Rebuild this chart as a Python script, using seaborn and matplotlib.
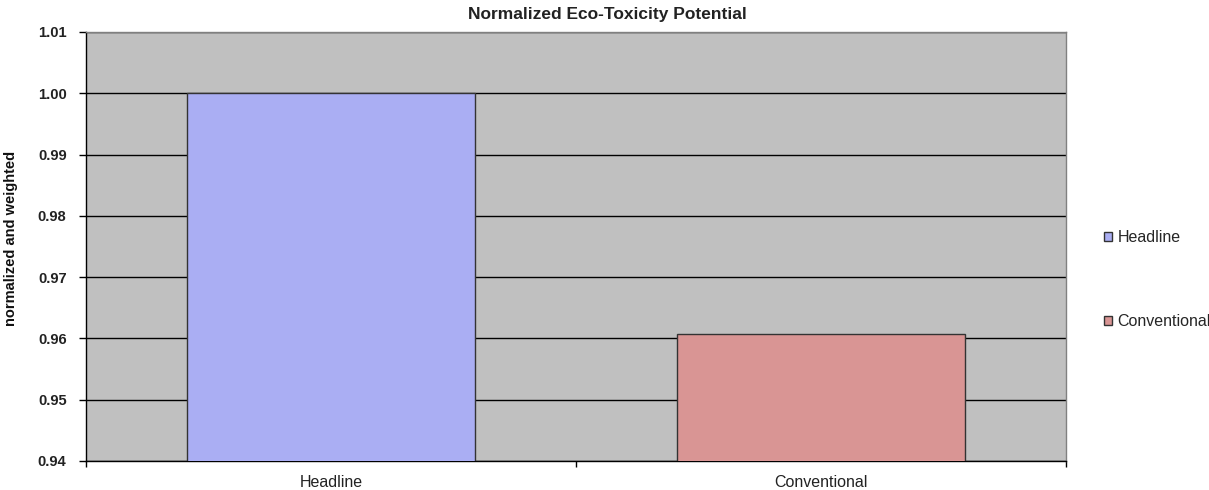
import matplotlib
matplotlib.use("Agg")
import matplotlib.pyplot as plt
import seaborn as sns
import pandas as pd
from matplotlib.patches import Patch

categories = ["Headline", "Conventional"]
values = [1.0, 0.9607]
colors = ["#aaaef3", "#d99594"]
yticks = [0.94, 0.95, 0.96, 0.97, 0.98, 0.99, 1.00, 1.01]

sns.set_theme(style="white")
plt.rcParams['font.family'] = ['Liberation Sans', 'DejaVu Sans']

df = pd.DataFrame({"cat": categories, "val": values})

fig = plt.figure(figsize=(12.09, 4.90), dpi=100)
ax = fig.add_axes([86/1209, 29/490, 980/1209, 429/490])
ax.set_facecolor("#c0c0c0")

sns.barplot(data=df, x="cat", y="val", hue="cat", palette=colors, order=categories,
            hue_order=categories, width=0.588, edgecolor="#333333", linewidth=1.0,
            saturation=1, dodge=False, legend=False, ax=ax, zorder=3)

ax.set_ylim(0.94, 1.01)
ax.set_yticks(yticks)
ax.set_yticklabels([f"{t:.2f}" for t in yticks], fontsize=10.6, fontweight="bold", color="#222222")
ax.yaxis.grid(True, color="black", linewidth=1.0, zorder=0)
ax.set_axisbelow(True)
ax.set_xlim(-0.5, 1.5)

# x ticks between categories
ax.set_xticks([0, 1])
ax.set_xticklabels(categories, fontsize=11.5, color="#222222")
ax.tick_params(axis="x", length=0, pad=10)
ax.set_xticks([-0.5, 0.5, 1.5], minor=True)
ax.tick_params(axis="x", which="minor", length=4, width=1, color="black", direction="out", bottom=True)
ax.tick_params(axis="y", length=5, width=1, color="black", direction="out", left=True, pad=9)

for s in ["left", "bottom"]:
    ax.spines[s].set_color("black")
    ax.spines[s].set_linewidth(1.0)
for s in ["top", "right"]:
    ax.spines[s].set_color("#808080")
    ax.spines[s].set_linewidth(1.0)

ax.set_xlabel("")
ax.set_ylabel("normalized and weighted", fontsize=10.5, fontweight="bold", color="#111111")
ax.yaxis.set_label_coords(-68/980, (461 - 238.5)/429)
fig.suptitle("Normalized Eco-Toxicity Potential", x=607.5/1209, y=1 - 7/490, va="top",
             fontsize=12.5, fontweight="bold", color="#222222")

handles = [Patch(facecolor=c, edgecolor="#333333", label=l) for c, l in zip(colors, categories)]
leg = fig.legend(handles=handles, loc="center left", bbox_to_anchor=(1104/1209, 1 - 279.5/490),
                 frameon=False, fontsize=11.5, handlelength=0.5, handleheight=0.5,
                 handletextpad=0.35, labelspacing=4.3, borderaxespad=0, borderpad=0)

fig.savefig("out.png", dpi=100, facecolor="white")
